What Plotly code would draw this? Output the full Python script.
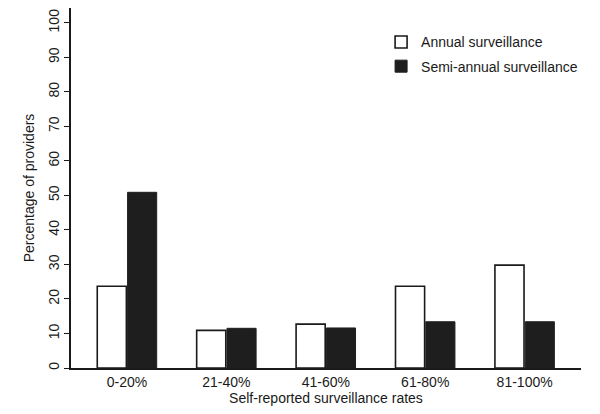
import plotly.graph_objects as go

categories = ["0-20%", "21-40%", "41-60%", "61-80%", "81-100%"]
annual = [23.7, 10.9, 12.7, 23.7, 29.8]
semi_annual = [50.9, 11.5, 11.6, 13.4, 13.4]
y_ticks = [0, 10, 20, 30, 40, 50, 60, 70, 80, 90, 100]

FONT = "Liberation Sans, Arial, Helvetica, sans-serif"
TXT = "#1a1a1a"

fig = go.Figure()
fig.add_trace(go.Bar(
    x=categories, y=annual, name="Annual surveillance",
    marker=dict(color="white", line=dict(color="#1a1a1a", width=1.6)),
    legendgroup="a",
))
fig.add_trace(go.Bar(
    x=categories, y=semi_annual, name="Semi-annual surveillance",
    marker=dict(color="#1e1e1e", line=dict(color="#1e1e1e", width=1.0)),
    legendgroup="b",
))

fig.update_layout(
    width=600, height=414,
    margin=dict(l=71, r=19, t=8, b=46),
    paper_bgcolor="white", plot_bgcolor="white",
    font=dict(family=FONT, size=14, color=TXT),
    barmode="group", bargap=0.39, bargroupgap=0.04,
    showlegend=True,
    legend=dict(
        x=0.608, y=0.949, xanchor="left", yanchor="top",
        bgcolor="rgba(0,0,0,0)", borderwidth=0,
        font=dict(family=FONT, size=14, color=TXT),
        tracegroupgap=3,
    ),
    xaxis=dict(
        range=[-0.563, 4.567],
        showline=True, linecolor="#1a1a1a", linewidth=1.5,
        ticks="", showgrid=False, zeroline=False,
        title=dict(text="Self-reported surveillance rates", standoff=3,
                   font=dict(family=FONT, size=14, color=TXT)),
        tickfont=dict(family=FONT, size=14, color=TXT),
    ),
    yaxis=dict(
        range=[0, 104.3],
        tickvals=y_ticks,
        ticktext=[str(v) for v in y_ticks],
        tickangle=-90,
        showline=True, linecolor="#1a1a1a", linewidth=1.5,
        ticks="outside", ticklen=5, tickwidth=1.2, tickcolor="#1a1a1a",
        showgrid=False, zeroline=False,
        title=dict(text="Percentage of providers", standoff=8,
                   font=dict(family=FONT, size=14, color=TXT)),
        tickfont=dict(family=FONT, size=14, color=TXT),
    ),
)

fig.write_html("out.html", config={"displayModeBar": False},
               post_script="document.body.style.margin='0';")
